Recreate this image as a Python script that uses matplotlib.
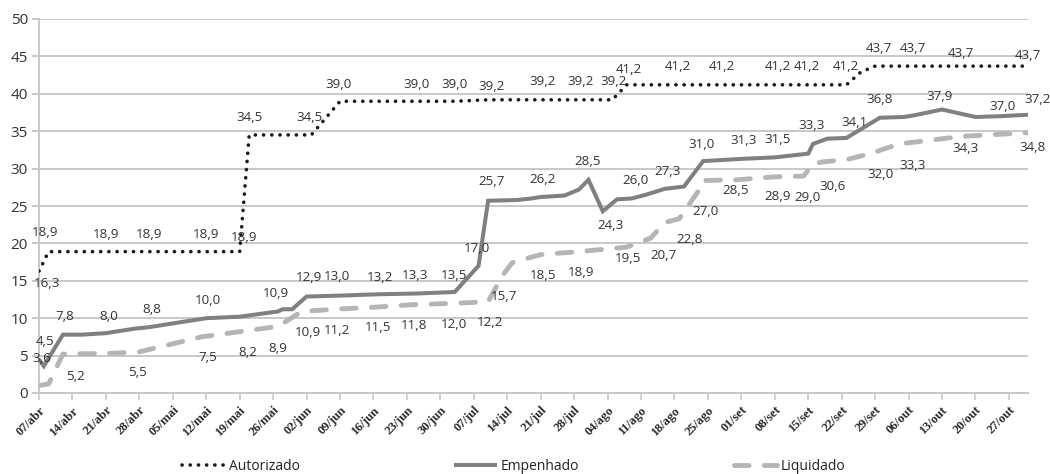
import matplotlib
matplotlib.use("Agg")
import matplotlib.pyplot as plt
from matplotlib.lines import Line2D
import pandas as pd

plt.rcParams["font.family"] = ["Open Sans", "DejaVu Sans"]
plt.rcParams["lines.scale_dashes"] = False

# Weekly axis ticks
tick_labels = ["07/abr", "14/abr", "21/abr", "28/abr", "05/mai", "12/mai", "19/mai",
               "26/mai", "02/jun", "09/jun", "16/jun", "23/jun", "30/jun", "07/jul",
               "14/jul", "21/jul", "28/jul", "04/ago", "11/ago", "18/ago", "25/ago",
               "01/set", "08/set", "15/set", "22/set", "29/set", "06/out", "13/out",
               "20/out", "27/out"]
first_tick = "2014-04-07"
period_end = "2014-10-31"

series_names = ["Autorizado", "Empenhado", "Liquidado"]

# Autorizado (R$ bilhões)
aut_dates = ["2014-04-07", "2014-04-09", "2014-04-21", "2014-04-30", "2014-05-12",
             "2014-05-19", "2014-05-21", "2014-06-03", "2014-06-09", "2014-06-25",
             "2014-07-03", "2014-07-10", "2014-07-21", "2014-07-29", "2014-08-05",
             "2014-08-08", "2014-08-18", "2014-08-28", "2014-09-08", "2014-09-15",
             "2014-09-23", "2014-09-26", "2014-09-29", "2014-10-07", "2014-10-17",
             "2014-10-31"]
aut_values = [16.3, 18.9, 18.9, 18.9, 18.9,
              18.9, 34.5, 34.5, 39.0, 39.0,
              39.0, 39.2, 39.2, 39.2, 39.2,
              41.2, 41.2, 41.2, 41.2, 41.2,
              41.2, 42.9, 43.7, 43.7, 43.7,
              43.7]

# Empenhado
emp_dates = ["2014-04-07", "2014-04-08", "2014-04-12", "2014-04-16", "2014-04-21",
             "2014-04-27", "2014-04-30", "2014-05-12", "2014-05-19", "2014-05-27",
             "2014-05-28", "2014-05-30", "2014-06-02", "2014-06-08", "2014-06-17",
             "2014-06-25", "2014-07-03", "2014-07-08", "2014-07-10", "2014-07-16",
             "2014-07-19", "2014-07-21", "2014-07-26", "2014-07-29", "2014-07-31",
             "2014-08-03", "2014-08-06", "2014-08-09", "2014-08-12", "2014-08-16",
             "2014-08-20", "2014-08-24", "2014-09-01", "2014-09-08", "2014-09-15",
             "2014-09-16", "2014-09-19", "2014-09-23", "2014-09-30", "2014-10-05",
             "2014-10-07", "2014-10-13", "2014-10-20", "2014-10-25", "2014-10-31"]
emp_values = [4.5, 3.6, 7.8, 7.8, 8.0,
              8.6, 8.8, 10.0, 10.2, 10.9,
              11.2, 11.2, 12.9, 13.0, 13.2,
              13.3, 13.5, 17.0, 25.7, 25.8,
              26.0, 26.2, 26.4, 27.2, 28.5,
              24.3, 25.9, 26.0, 26.5, 27.3,
              27.6, 31.0, 31.3, 31.5, 32.0,
              33.3, 34.0, 34.1, 36.8, 36.9,
              37.1, 37.9, 36.9, 37.0, 37.2]

# Liquidado
liq_dates = ["2014-04-07", "2014-04-09", "2014-04-12", "2014-04-22", "2014-04-28",
             "2014-05-11", "2014-05-19", "2014-05-27", "2014-06-01", "2014-06-08",
             "2014-06-17", "2014-06-24", "2014-07-03", "2014-07-10", "2014-07-13",
             "2014-07-15", "2014-07-17", "2014-07-21", "2014-07-29", "2014-08-08",
             "2014-08-13", "2014-08-16", "2014-08-19", "2014-08-23", "2014-08-24",
             "2014-08-31", "2014-09-08", "2014-09-14", "2014-09-16", "2014-09-18",
             "2014-09-23", "2014-09-28", "2014-10-04", "2014-10-08", "2014-10-17",
             "2014-10-31"]
liq_values = [1.0, 1.2, 5.2, 5.3, 5.5,
              7.5, 8.2, 8.9, 10.9, 11.2,
              11.5, 11.8, 12.0, 12.2, 15.7,
              17.4, 17.8, 18.5, 18.9, 19.5,
              20.7, 22.8, 23.3, 27.0, 28.4,
              28.5, 28.9, 29.0, 30.6, 30.9,
              31.2, 32.0, 33.3, 33.6, 34.3,
              34.8]

# Value-label placement (pixel offsets from the point; None = no label)
aut_label_offsets = [(8, -12), (-3, 19), (0, 17), (0, 17), (0, 17),
                     (4, 14), (0, 17), (-2, 17), (-2, 17), (0, 17),
                     (0, 17), (3, 13), (2, 18), (2, 18), (1, 18),
                     (2, 15), (3, 18), (0, 18), (3, 18), (-1, 18),
                     (-1, 18), None, (4, 18), (0, 18), (0, 13),
                     (0, 11)]
emp_label_offsets = [(6, 18), (-2, 8), (2, 18), None, (3, 17),
                     None, (3, 18), (2, 18), None, (-2, 18),
                     None, None, (2, 19), (2, 19), (2, 17),
                     (-1, 18), (-1, 17), (-2, 17), (3, 19), None,
                     None, (2, 18), None, None, (-1, 18),
                     (8, -14), None, (4, 18), None, (3, 17),
                     None, (-2, 17), (2, 18), (3, 18), None,
                     (-1, 18), None, (8, 15), (0, 18), None,
                     None, (-2, 13), None, (3, 10), (10, 15)]
liq_label_offsets = [None, None, (13, -22), None, (-2, -21),
                     (6, -21), (8, -21), (0, -22), (6, -21), (2, -21),
                     (0, -21), (2, -21), (-1, -21), (2, -21), (2, -21),
                     None, None, (2, -21), (2, -21), (1, -11),
                     (13, -17), (25, -17), None, (7, -20), None,
                     (-1, -11), (3, -20), (4, -21), (19, -22), None,
                     None, (10, -21), (14, -22), None, (4, -12),
                     (5, -15)]

styles = {
    "Autorizado": dict(color="#1a1a1a", lw=2.6, dashes=(0.1, 5.8),
                       dash_capstyle="round", solid_capstyle="round"),
    "Empenhado": dict(color="#808080", lw=2.9, solid_joinstyle="miter",
                      solid_capstyle="butt"),
    "Liquidado": dict(color="#b5b5b5", lw=3.5, dashes=(10.5, 11),
                      dash_capstyle="round"),
}

fig = plt.figure(figsize=(10.5, 4.74), dpi=100)
ax = fig.add_axes([39 / 1050, 1 - 393 / 474, (1028 - 39) / 1050, (393 - 19) / 474])

grid_color = "#c8c8c8"
text_color = "#333333"

series = [
    ("Autorizado", aut_dates, aut_values, aut_label_offsets),
    ("Empenhado", emp_dates, emp_values, emp_label_offsets),
    ("Liquidado", liq_dates, liq_values, liq_label_offsets),
]

for name, dates, values, offsets in series:
    x = pd.to_datetime(dates)
    ax.plot(x, values, zorder=3, **styles[name])
    for xi, v, off in zip(x, values, offsets):
        if off is None:
            continue
        ax.annotate(f"{v:.1f}".replace(".", ","), (xi, v), xytext=off,
                    textcoords="offset pixels", ha="center", va="center",
                    fontsize=9.6, color=text_color, zorder=4)

# Axes, grid and ticks
ax.set_ylim(0, 50)
ax.set_xlim(pd.Timestamp(first_tick), pd.Timestamp(period_end))
ax.set_yticks(range(0, 51, 5))
ax.yaxis.grid(True, color=grid_color, lw=1.4, zorder=0)
ax.set_axisbelow(True)
ticks = pd.date_range(first_tick, periods=len(tick_labels), freq="7D")
ax.set_xticks(ticks)
ax.set_xticklabels(tick_labels, rotation=45, ha="right", va="top",
                   rotation_mode="anchor", family=["Liberation Serif"],
                   fontweight="bold", fontsize=9.2, color="#2b2b2b")
ax.tick_params(axis="x", length=5, width=1.2, color=grid_color, pad=3)
ax.tick_params(axis="y", length=5, width=1.4, color=grid_color, pad=3,
               labelsize=11, labelcolor="#333333")
for side in ("top", "right"):
    ax.spines[side].set_visible(False)
for side in ("left", "bottom"):
    ax.spines[side].set_color(grid_color)
    ax.spines[side].set_linewidth(1.4)

handles = [Line2D([], [], **styles[n]) for n in series_names]
fig.legend(handles, series_names, loc="center", bbox_to_anchor=(513.5 / 1050, 8 / 474),
           ncol=3, frameon=False, fontsize=10, handlelength=3.1,
           handletextpad=0.3, columnspacing=11.1, labelcolor="#222222",
           borderaxespad=0, borderpad=0)

fig.savefig("out.png", dpi=100)
